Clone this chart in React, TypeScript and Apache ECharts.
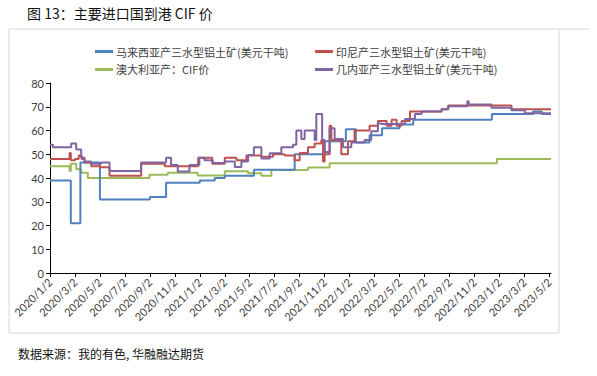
import React, { useEffect, useRef } from "react";
import * as echarts from "echarts";

const tickLabels = [
  "2020/1/2", "2020/3/2", "2020/5/2", "2020/7/2", "2020/9/2", "2020/11/2",
  "2021/1/2", "2021/3/2", "2021/5/2", "2021/7/2", "2021/9/2", "2021/11/2",
  "2022/1/2", "2022/3/2", "2022/5/2", "2022/7/2", "2022/9/2", "2022/11/2",
  "2023/1/2", "2023/3/2", "2023/5/2",
];
const endDate = "2023/5/6";

const seriesNames = [
  "马来西亚产三水型铝土矿(美元干吨)",
  "印尼产三水型铝土矿(美元干吨)",
  "澳大利亚产：CIF价",
  "几内亚产三水型铝土矿(美元干吨)",
];

const malaysiaDates = ["2020/1/2", "2020/2/22", "2020/3/15", "2020/5/2", "2020/9/2", "2020/10/11", "2021/1/2", "2021/2/8", "2021/3/2", "2021/5/12", "2021/8/20", "2021/11/2", "2021/12/23", "2022/1/17", "2022/2/20", "2022/3/20", "2022/5/2", "2022/6/5", "2022/12/14", "2023/3/23", "2023/4/14"];
const malaysiaValues = [39, 21, 46.5, 31, 32, 38, 39, 40, 41, 43.5, 50, 55.5, 60.5, 55, 58, 61, 62.5, 64.5, 67, 68, 67];

const indonesiaDates = ["2020/1/2", "2020/2/19", "2020/2/22", "2020/3/2", "2020/3/11", "2020/3/18", "2020/3/25", "2020/4/11", "2020/5/2", "2020/5/25", "2020/8/11", "2020/10/8", "2020/12/28", "2021/2/2", "2021/3/2", "2021/3/30", "2021/4/24", "2021/5/30", "2021/6/28", "2021/7/26", "2021/8/20", "2021/9/2", "2021/9/22", "2021/10/8", "2021/10/24", "2021/10/28", "2021/11/2", "2021/11/14", "2021/11/18", "2021/12/12", "2021/12/28", "2022/1/14", "2022/2/20", "2022/3/10", "2022/3/31", "2022/4/13", "2022/4/25", "2022/5/7", "2022/5/27", "2022/8/13", "2022/8/29", "2023/1/31"];
const indonesiaValues = [48, 50.5, 47.5, 48, 49.5, 48, 46.5, 45, 44.5, 41, 46, 45, 48.5, 46, 48.5, 47.5, 49.5, 49, 50, 49.5, 47.5, 50.5, 53, 54.5, 56, 47, 50, 62, 56, 50, 55.5, 60, 62, 64, 62, 64.5, 62, 64, 68, 69, 70.5, 69];

const australiaDates = ["2020/1/2", "2020/2/19", "2020/2/22", "2020/3/5", "2020/3/17", "2020/4/3", "2020/9/1", "2020/10/15", "2020/12/27", "2021/3/2", "2021/4/28", "2021/5/30", "2021/6/24", "2021/9/22", "2021/11/14", "2022/12/26"];
const australiaValues = [45, 43, 46, 43.7, 42.2, 40, 41.4, 42.2, 41.1, 42.8, 42, 41, 43.4, 44.4, 46.2, 48];

const guineaDates = ["2020/1/2", "2020/1/9", "2020/2/23", "2020/3/5", "2020/3/17", "2020/3/25", "2020/4/11", "2020/5/5", "2020/5/25", "2020/8/11", "2020/10/11", "2020/10/23", "2020/11/9", "2020/12/7", "2020/12/31", "2021/1/13", "2021/2/3", "2021/3/2", "2021/3/26", "2021/4/12", "2021/4/28", "2021/5/12", "2021/5/30", "2021/6/20", "2021/7/18", "2021/8/16", "2021/8/24", "2021/9/6", "2021/9/14", "2021/10/8", "2021/10/12", "2021/10/26", "2021/11/2", "2021/11/14", "2021/11/26", "2021/12/16", "2022/1/6", "2022/2/8", "2022/2/24", "2022/3/10", "2022/3/19", "2022/5/15", "2022/6/9", "2022/6/25", "2022/8/13", "2022/8/29", "2022/10/15", "2022/10/18", "2022/12/13", "2023/1/31", "2023/3/3"];
const guineaValues = [54, 53, 54.5, 52, 48.5, 47, 46, 46.5, 43, 46.5, 48.5, 45.5, 42.7, 45.5, 48.5, 47.5, 46.3, 47, 44.6, 47, 49.7, 53, 48.2, 50.4, 53, 54, 60, 56.4, 60, 56, 67, 56, 51, 61, 56.4, 53, 55, 56, 59.7, 63, 62.7, 64.8, 67, 68, 69, 70.2, 72.3, 71, 69.6, 68.5, 67.3];

const colors = ["#4F81BD", "#C0504D", "#9BBB59", "#8064A2"];

function monthIndex(d: string): number {
  const [y, m, day] = d.split("/").map(Number);
  return (y - 2020) * 12 + (m - 1) + (day - 2) / 30;
}

function build(dates: string[], values: number[]) {
  const pts = dates.map((d, i) => [monthIndex(d), values[i]]);
  pts.push([monthIndex(endDate), values[values.length - 1]]);
  return pts;
}

const CJK = '"Noto Sans CJK SC", "Noto Sans", sans-serif';

export default function App() {
  const ref = useRef<HTMLDivElement>(null);
  useEffect(() => {
    if (!ref.current) return;
    const chart = echarts.init(ref.current, undefined, { renderer: "svg" });
    const tickPos = tickLabels.map(monthIndex);
    const allData = [
      build(malaysiaDates, malaysiaValues),
      build(indonesiaDates, indonesiaValues),
      build(australiaDates, australiaValues),
      build(guineaDates, guineaValues),
    ];
    chart.setOption({
      animation: false,
      backgroundColor: "#fff",
      textStyle: { fontFamily: CJK },
      grid: { left: 50, top: 83, width: 501, height: 190, containLabel: false },
      legend: [
        {
          data: [seriesNames[0], seriesNames[2]],
          orient: "vertical",
          left: 90,
          top: 41,
          itemGap: 7,
          itemWidth: 18,
          itemHeight: 3,
          icon: "rect",
          textStyle: { fontSize: 11, color: "#404040", fontFamily: CJK, padding: [0, 0, 0, -2] },
        },
        {
          data: [seriesNames[1], seriesNames[3]],
          orient: "vertical",
          left: 310,
          top: 41,
          itemGap: 7,
          itemWidth: 18,
          itemHeight: 3,
          icon: "rect",
          textStyle: { fontSize: 11, color: "#404040", fontFamily: CJK, padding: [0, 0, 0, -2] },
        },
      ],
      xAxis: {
        type: "value",
        min: 0,
        max: monthIndex(endDate),
        splitLine: { show: false },
        axisLine: { show: true, lineStyle: { color: "#000", width: 1 } },
        axisTick: { show: true, length: 4, lineStyle: { color: "#000" }, customValues: tickPos },
        axisLabel: {
          customValues: tickPos,
          rotate: 45,
          margin: 7,
          fontSize: 11,
          color: "#404040",
          fontFamily: "Lato, sans-serif",
          formatter: (v: number) => {
            let best = 0;
            for (let i = 0; i < tickPos.length; i++) {
              if (Math.abs(tickPos[i] - v) < Math.abs(tickPos[best] - v)) best = i;
            }
            return tickLabels[best];
          },
        },
      },
      yAxis: {
        type: "value",
        min: 0,
        max: 80,
        interval: 10,
        splitLine: { show: false },
        axisLine: { show: true, lineStyle: { color: "#000", width: 1 } },
        axisTick: { show: true, length: 4, lineStyle: { color: "#000" } },
        axisLabel: { fontSize: 11, color: "#404040", margin: 6, fontFamily: "Lato, sans-serif" },
      },
      series: allData.map((d, i) => ({
        name: seriesNames[i],
        type: "line",
        step: "end",
        data: d,
        symbol: "none",
        lineStyle: { width: 2, color: colors[i] },
        itemStyle: { color: colors[i] },
        z: i === 2 ? 1 : 2,
      })),
      graphic: [
        {
          type: "text",
          left: 27,
          top: 6,
          style: { text: "图 13：主要进口国到港 CIF 价", fontSize: 14, fill: "#111", fontFamily: CJK },
        },
        { type: "line", shape: { x1: 9, y1: 29, x2: 590, y2: 29 }, style: { stroke: "#d9d9d9", lineWidth: 1 } },
        { type: "line", shape: { x1: 9, y1: 29, x2: 9, y2: 333 }, style: { stroke: "#d9d9d9", lineWidth: 1 } },
        { type: "line", shape: { x1: 9, y1: 333, x2: 559, y2: 333 }, style: { stroke: "#d9d9d9", lineWidth: 1 } },
        { type: "line", shape: { x1: 559, y1: 29, x2: 559, y2: 333 }, style: { stroke: "#d9d9d9", lineWidth: 1 } },
        {
          type: "text",
          left: 18,
          top: 347,
          style: { text: "数据来源：我的有色, 华融融达期货", fontSize: 12, fill: "#111", fontFamily: CJK },
        },
      ],
    });
    return () => chart.dispose();
  }, []);
  return <div ref={ref} style={{ width: 597, height: 376, position: "fixed", left: 0, top: 0 }} />;
}
